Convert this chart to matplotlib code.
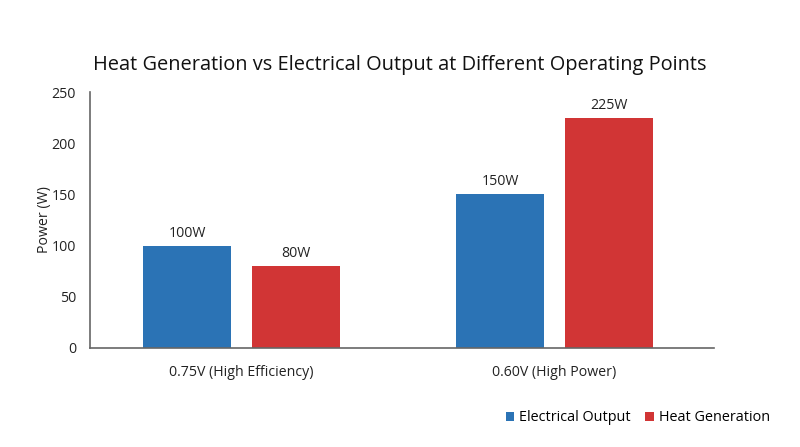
import numpy as np
import matplotlib.pyplot as plt

plt.rcParams['font.family'] = ['Open Sans', 'DejaVu Sans']

categories = ["0.75V (High Efficiency)", "0.60V (High Power)"]
electrical = [100, 150]
heat = [80, 225]
series_names = ["Electrical Output", "Heat Generation"]

blue = '#2b73b5'
red = '#d13535'

fig = plt.figure(figsize=(8, 4.47), dpi=100)
ax = fig.add_axes([0.1125, 0.2215, 0.78, 0.5725])

x = np.arange(len(categories))
width = 0.281
off = 0.174
b1 = ax.bar(x - off, electrical, width, color=blue, label=series_names[0])
b2 = ax.bar(x + off, heat, width, color=red, label=series_names[1])

for bars, vals in ((b1, electrical), (b2, heat)):
    for rect, v in zip(bars, vals):
        ax.text(rect.get_x() + rect.get_width() / 2, v + 5, f"{v}W",
                ha='center', va='bottom', fontsize=10.2, color='#222222')

ax.set_xlim(-0.484, 1.51)
ax.set_ylim(0, 250)
ax.set_yticks([0, 50, 100, 150, 200, 250])
ax.set_xticks(x)
ax.set_xticklabels(categories, fontsize=10.2, color='#222222')
ax.tick_params(axis='y', labelsize=10.2, labelcolor='#222222')
ax.tick_params(length=0, pad=10)
ax.tick_params(axis='x', pad=12)
ax.set_ylabel("Power (W)", fontsize=10.2, color='#222222', labelpad=0)

for s in ('top', 'right'):
    ax.spines[s].set_visible(False)
for s in ('left', 'bottom'):
    ax.spines[s].set_color('#666666')
    ax.spines[s].set_linewidth(1.2)

fig.suptitle("Heat Generation vs Electrical Output at Different Operating Points",
             x=0.5, y=0.878, fontsize=14.4, color='#111111')

fig.legend(handles=[b1, b2], loc='center right', bbox_to_anchor=(0.979, 0.065),
           ncol=2, frameon=False, fontsize=10.4, handlelength=0.6, handleheight=0.6,
           handletextpad=0.35, columnspacing=1.0)

fig.savefig("out.png", dpi=100)
